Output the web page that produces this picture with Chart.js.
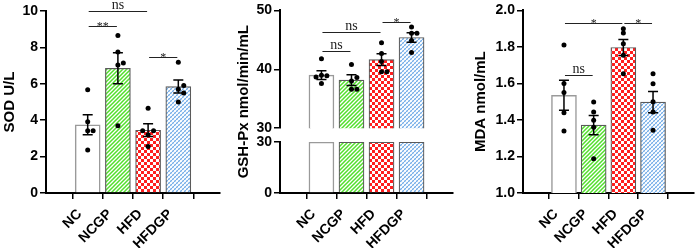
<!DOCTYPE html>
<html>
<head>
<meta charset="utf-8">
<script src="https://cdn.jsdelivr.net/npm/chart.js@4.4.0/dist/chart.umd.min.js"></script>
<style>
  html, body { margin: 0; padding: 0; background: #fff; }
  canvas { position: absolute; top: 0; }
</style>
</head>
<body>
<canvas id="sodChart" width="224" height="248" style="left:0"></canvas>
<canvas id="gshChart" width="223" height="248" style="left:234px"></canvas>
<canvas id="mdaChart" width="227" height="248" style="left:471px"></canvas>
<script>
const groups = ["NC", "NCGP", "HFD", "HFDGP"];

// SOD U/L
const sodMean = [3.75, 6.85, 3.45, 5.85];
const sodSem = [0.55, 0.85, 0.35, 0.36];
const sodDots = [
  [5.67, 3.91, 3.42, 3.42, 2.36],
  [8.65, 7.75, 7.03, 7.14, 3.69],
  [4.65, 3.2, 3.42, 3.42, 2.55],
  [7.18, 5.7, 5.9, 5.5, 5.0]
];
const sodSig = [
  { from: 0, to: 2, y: 10, text: "ns" },
  { from: 0, to: 1, y: 9.2, text: "**" },
  { from: 2, to: 3, y: 7.5, text: "*" }
];

// GSH-Px nmol/min/mL
const gshMean = [39.0, 38.15, 41.65, 45.4];
const gshSem = [0.75, 0.9, 1.0, 0.8];
const gshDots = [
  [41.8, 39.0, 38.9, 38.7, 37.6],
  [40.8, 38.0, 38.6, 36.6, 36.6],
  [44.5, 42.7, 41.3, 39.6, 39.6],
  [47.2, 46.1, 46.1, 44.9, 42.85]
];
const gshSig = [
  { from: 0, to: 2, y: 46.3, text: "ns" },
  { from: 0, to: 1, y: 43.05, text: "ns" },
  { from: 2, to: 3, y: 48.1, text: "*" }
];

// MDA nmol/mL
const mdaMean = [1.535, 1.372, 1.797, 1.498];
const mdaSem = [0.082, 0.053, 0.044, 0.058];
const mdaDots = [
  [1.81, 1.6, 1.55, 1.44, 1.34],
  [1.498, 1.443, 1.398, 1.36, 1.188],
  [1.9, 1.876, 1.818, 1.754, 1.653],
  [1.653, 1.598, 1.5, 1.443, 1.343]
];
const mdaSig = [
  { from: 0, to: 2, y: 1.93, text: "*" },
  { from: 2, to: 3, y: 1.93, text: "*" },
  { from: 0, to: 1, y: 1.645, text: "ns" }
];

const FONT = "'Liberation Sans', Arial, sans-serif";
const SERIF = "'Liberation Serif', 'Times New Roman', serif";

function pattern(kind) {
  const c = document.createElement("canvas");
  const g = c.getContext("2d");
  if (kind === "check") {
    c.width = c.height = 6;
    g.fillStyle = "#fff"; g.fillRect(0, 0, 6, 6);
    g.fillStyle = "#ff1f1f";
    g.fillRect(0, 0, 3, 3); g.fillRect(3, 3, 3, 3);
  } else {
    c.width = c.height = 4;
    g.fillStyle = "#fff"; g.fillRect(0, 0, 4, 4);
    g.strokeStyle = kind === "stripe" ? "#52df2c" : "#76aee8";
    g.lineWidth = 1.5;
    g.beginPath();
    g.moveTo(-1, 5); g.lineTo(5, -1);
    g.moveTo(-1, 1); g.lineTo(1, -1);
    g.moveTo(3, 5); g.lineTo(5, 3);
    g.stroke();
    if (kind === "hatch") {
      g.strokeStyle = "#fff";
      g.lineWidth = 0.8;
      g.beginPath();
      g.moveTo(0, 0); g.lineTo(4, 4);
      g.stroke();
    }
  }
  return g.createPattern(c, "repeat");
}

const fills = ["#ffffff", pattern("stripe"), pattern("check"), pattern("hatch")];
const edges = ["#9a9a9a", "#5a5a5a", "#5a5a5a", "#5a5a5a"];
const edgeWidths = [1.5, 1.2, 1.2, 1.2];

// nudge dots sideways when they would overlap
function spread(values, thr) {
  const steps = [0, 0.18, -0.18, 0.32, -0.32];
  const placed = [];
  return values.map(v => {
    const dx = steps.find(s => !placed.some(p => p.dx === s && Math.abs(p.v - v) < thr));
    placed.push({ v, dx });
    return dx;
  });
}

function dotData(dots, thr) {
  const out = [];
  dots.forEach((vals, i) => {
    const offs = spread(vals, thr);
    vals.forEach((v, k) => out.push({ x: i + offs[k], y: v }));
  });
  return out;
}

const marks = {
  id: "marks",
  afterDatasetsDraw(chart, args, o) {
    const ctx = chart.ctx;
    const x = chart.scales.x;
    const y = chart.scales[o.axis];
    ctx.save();
    ctx.strokeStyle = "#000";
    ctx.lineWidth = 1.5;
    o.mean.forEach((m, i) => {
      const px = x.getPixelForValue(i);
      const hi = y.getPixelForValue(m + o.sem[i]);
      const lo = y.getPixelForValue(m - o.sem[i]);
      ctx.beginPath();
      ctx.moveTo(px, hi); ctx.lineTo(px, lo);
      ctx.moveTo(px - 5, hi); ctx.lineTo(px + 5, hi);
      ctx.moveTo(px - 5, lo); ctx.lineTo(px + 5, lo);
      ctx.stroke();
    });

    ctx.strokeStyle = "#222";
    ctx.fillStyle = "#222";
    ctx.lineWidth = 1;
    ctx.textAlign = "center";
    o.sig.forEach(s => {
      const x1 = x.getPixelForValue(s.from) + 1;
      const x2 = x.getPixelForValue(s.to) - 1;
      const py = Math.round(y.getPixelForValue(s.y)) + 0.5;
      ctx.beginPath(); ctx.moveTo(x1, py); ctx.lineTo(x2, py); ctx.stroke();
      const star = s.text.includes("*");
      ctx.font = (star ? "12px " : "14px ") + SERIF;
      ctx.fillText(s.text, (x1 + x2) / 2, star ? py + 3 : py - 3);
    });

    ctx.translate(10, (chart.chartArea.top + chart.chartArea.bottom) / 2);
    ctx.rotate(-Math.PI / 2);
    ctx.font = "bold 15px " + FONT;
    ctx.fillStyle = "#000";
    ctx.textBaseline = "middle";
    ctx.fillText(o.title, 0, 0);
    ctx.restore();
  }
};

const tickFont = { family: FONT, size: 14, weight: "bold" };

function yScale(width, extra) {
  return Object.assign({
    type: "linear",
    position: "left",
    afterFit: s => { s.width = width; },
    grid: { drawOnChartArea: false, color: "#000", lineWidth: 1.5, tickLength: 6 },
    border: { color: "#000", width: 2 },
    ticks: { color: "#000", font: tickFont, padding: 2 }
  }, extra);
}

function xScale() {
  return {
    type: "linear",
    min: -0.66,
    max: 3.66,
    afterBuildTicks: s => { s.ticks = groups.map((g, i) => ({ value: i })); },
    afterFit: s => { s.height = 55; },
    grid: { drawOnChartArea: false, color: "#000", lineWidth: 1.5, tickLength: 6 },
    border: { color: "#000", width: 2 },
    ticks: {
      color: "#000", font: tickFont, padding: 7, autoSkip: false,
      minRotation: 45, maxRotation: 45, labelOffset: -8,
      callback: v => groups[v]
    }
  };
}

function barSet(values, axis) {
  return {
    type: "bar",
    order: 2,
    data: values.map((v, i) => ({ x: i, y: v })),
    yAxisID: axis,
    backgroundColor: fills,
    borderColor: edges,
    borderWidth: edgeWidths,
    barThickness: 25,
    grouped: false
  };
}

function dotSet(dots, thr, axis) {
  return {
    type: "scatter",
    order: 0,
    data: dotData(dots, thr),
    yAxisID: axis,
    pointRadius: 2.5,
    pointBackgroundColor: "#000",
    pointBorderWidth: 0
  };
}

function baseOptions(padding, scales, plug) {
  return {
    responsive: false,
    animation: false,
    devicePixelRatio: 1,
    events: [],
    layout: { padding },
    scales,
    plugins: { legend: { display: false }, tooltip: { enabled: false }, marks: plug }
  };
}

new Chart(document.getElementById("sodChart"), {
  data: { datasets: [barSet(sodMean, "y"), dotSet(sodDots, 0.33, "y")] },
  options: baseOptions(
    { top: 11, right: 4, left: 0, bottom: 0 },
    { x: xScale(), y: yScale(46, { min: 0, max: 10, ticks: { color: "#000", font: tickFont, padding: 2, stepSize: 2 } }) },
    { axis: "y", mean: sodMean, sem: sodSem, sig: sodSig, title: "SOD U/L" }
  ),
  plugins: [marks]
});

new Chart(document.getElementById("gshChart"), {
  data: {
    datasets: [
      barSet(gshMean.map(v => Math.min(v, 30)), "yBot"),
      barSet(gshMean, "yTop"),
      dotSet(gshDots, 1.0, "yTop")
    ]
  },
  options: baseOptions(
    { top: 10, right: 4, left: 0, bottom: 0 },
    {
      x: xScale(),
      yTop: yScale(46, { min: 30, max: 50, stack: "gsh", stackWeight: 118, weight: 3,
        ticks: { color: "#000", font: tickFont, padding: 2, stepSize: 5 } }),
      yGap: yScale(46, { min: 0, max: 1, stack: "gsh", stackWeight: 14, weight: 2,
        grid: { display: false }, border: { display: false }, ticks: { display: false } }),
      yBot: yScale(46, { min: 0, max: 30, stack: "gsh", stackWeight: 51, weight: 1,
        afterBuildTicks: s => { s.ticks = [{ value: 0 }, { value: 30 }]; } })
    },
    { axis: "yTop", mean: gshMean, sem: gshSem, sig: gshSig, title: "GSH-Px nmol/min/mL" }
  ),
  plugins: [marks]
});

new Chart(document.getElementById("mdaChart"), {
  data: { datasets: [barSet(mdaMean, "y"), dotSet(mdaDots, 0.02, "y")] },
  options: baseOptions(
    { top: 10, right: 3, left: 0, bottom: 0 },
    { x: xScale(), y: yScale(52, { min: 1, max: 2,
        ticks: { color: "#000", font: tickFont, padding: 2, stepSize: 0.2, callback: v => v.toFixed(1) } }) },
    { axis: "y", mean: mdaMean, sem: mdaSem, sig: mdaSig, title: "MDA nmol/mL" }
  ),
  plugins: [marks]
});
</script>
</body>
</html>
